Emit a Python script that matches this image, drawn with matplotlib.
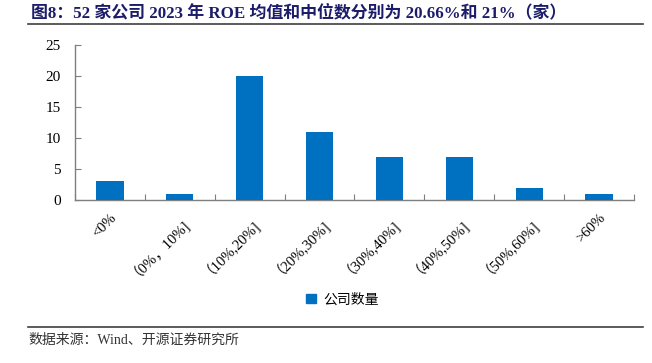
import numpy as np
from matplotlib import pyplot as plt
from matplotlib.lines import Line2D
from matplotlib.patches import Patch

# Data
categories = ['<0%', '（0%，10%]', '（10%,20%]', '（20%,30%]',
              '（30%,40%]', '（40%,50%]', '（50%,60%]', '>60%']
counts = [3, 1, 20, 11, 7, 7, 2, 1]
yticks = [0, 5, 10, 15, 20, 25]

fonts = ['Liberation Serif', 'Noto Sans CJK SC', 'DejaVu Sans']
plt.rcParams['font.family'] = fonts
blue = '#0070C0'
spine_col = '#7f7f7f'

fig = plt.figure(figsize=(6.52, 3.63), dpi=100)
ax = fig.add_axes([0.115, 0.449, 0.8574, 0.427])

x = np.arange(len(categories))
ax.bar(x, counts, width=0.39, color=blue, zorder=3)

ax.set_xlim(-0.5, len(categories) - 0.5)
ax.set_ylim(0, 25)
ax.set_yticks(yticks)
ax.set_yticklabels([str(v) for v in yticks], fontsize=11)

# ticks sit between categories, labels at centres
ax.set_xticks(np.arange(len(categories) + 1) - 0.5)
ax.set_xticklabels([])
ax.set_xticks(x, minor=True)
ax.set_xticklabels(categories, minor=True, rotation=45, ha='right',
                   va='top', rotation_mode='anchor', fontsize=10.5)
ax.tick_params(axis='x', which='minor', length=0, pad=8)
ax.tick_params(axis='x', which='major', direction='in', length=4,
               color=spine_col)
ax.tick_params(axis='y', direction='in', length=4, color=spine_col, pad=10)

for s in ['top', 'right']:
    ax.spines[s].set_visible(False)
for s in ['left', 'bottom']:
    ax.spines[s].set_color(spine_col)
    ax.spines[s].set_linewidth(1.0)

# legend
fig.legend(handles=[Patch(color=blue, label='公司数量')],
           loc='center', bbox_to_anchor=(0.525, 0.174), frameon=False,
           fontsize=10, handlelength=0.7, handleheight=0.7,
           handletextpad=0.5)

# title, rules, source
fig.text(0.047, 0.964, '图8：52 家公司 2023 年 ROE 均值和中位数分别为 20.66%和 21%（家）',
         fontsize=12.2, fontweight='bold', color='#1c1c6b', va='center')
fig.add_artist(Line2D([0.043, 0.986], [0.934, 0.934], color='#404040', lw=1.2))
fig.add_artist(Line2D([0.043, 0.986], [0.099, 0.099], color='#404040', lw=1.2))
fig.text(0.043, 0.063, '数据来源：Wind、开源证券研究所', fontsize=10,
         color='#333333', va='center')

plt.savefig('out.png', dpi=100)
